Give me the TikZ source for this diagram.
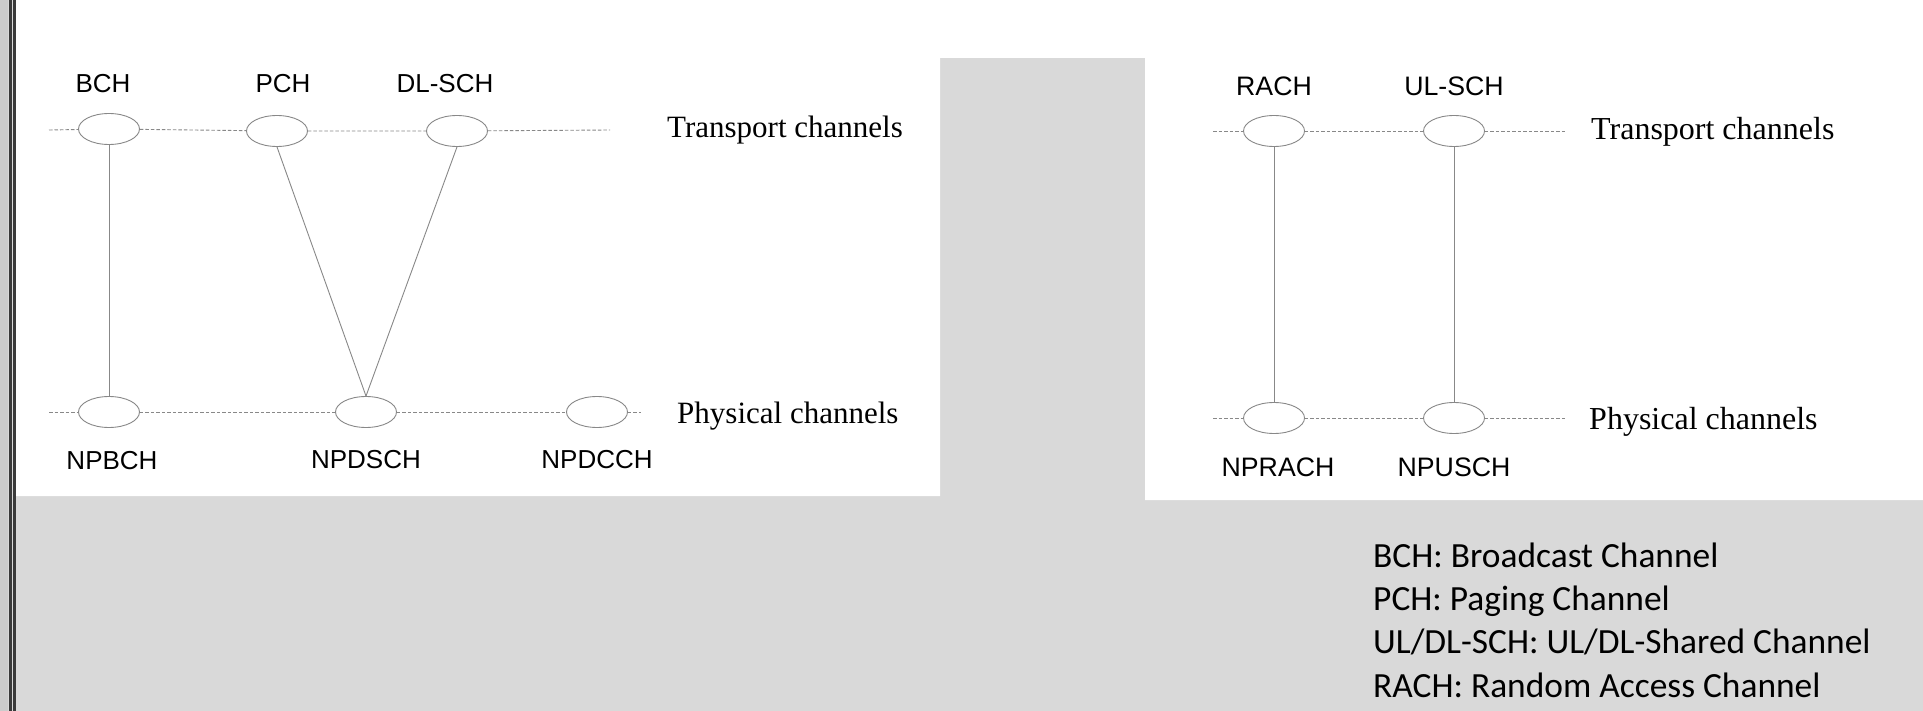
\documentclass[tikz,border=0pt]{standalone}
\usepackage{fontspec}
\setmainfont{Liberation Serif}
\newfontfamily\chfont{Liberation Sans}
\newfontfamily\notefont{Carlito}
\usetikzlibrary{shapes.geometric,positioning}
\definecolor{panelgray}{HTML}{D9D9D9}
\definecolor{framegray}{HTML}{3A3A3A}
\definecolor{linegray}{HTML}{888888}

\begin{document}
\begin{tikzpicture}[
  x=1pt, y=-1pt,
  chan/.style={ellipse, draw=linegray, line width=0.9pt, fill=white, minimum width=61pt, minimum height=31pt, inner sep=0pt},
  chlabel/.style={font=\chfont\fontsize{26}{30}\selectfont, inner sep=0pt},
  chlabelr/.style={font=\chfont\fontsize{26.7}{30}\selectfont, inner sep=0pt},
  layertext/.style={font=\fontsize{31}{36}\selectfont, inner sep=0pt, anchor=base west},
  tier/.style={draw=linegray, line width=0.9pt, dash pattern=on 3.5pt off 2pt},
  link/.style={draw=linegray, line width=0.9pt},
  note/.style={font=\notefont\fontsize{35.4}{43}\selectfont, inner sep=0pt, anchor=base west}
]
\useasboundingbox (0,0) rectangle (1923,711);

% Background and frame
\fill[panelgray] (0,0) rectangle (1923,711);
\fill[white] (16,0) -- (1923,0) -- (1923,500) -- (1145,500) -- (1145,58)
  -- (940,58) -- (940,496) -- (16,496) -- cycle;
\fill[gray!40] (0,0) rectangle (8,711);
\fill[framegray] (9,0) rectangle (11.5,711);
\fill[framegray] (13,0) rectangle (15.5,711);

% Downlink channels
\node[chan] (bch) at (109,129) {};
\node[chan] (pch) at (277,131) {};
\node[chan] (dlsch) at (457,131) {};
\node[chan] (npbch) at (109,412) {};
\node[chan] (npdsch) at (366,412) {};
\node[chan] (npdcch) at (597,412) {};

\node[chlabel, above=20pt of bch, xshift=-6pt] (bchname) {BCH};
\node[chlabel, above=22pt of pch, xshift=6pt] (pchname) {PCH};
\node[chlabel, above=22pt of dlsch, xshift=-12pt] (dlschname) {DL-SCH};
\node[chlabel, below=23pt of npbch, xshift=3pt] (npbchname) {NPBCH};
\node[chlabel, below=22pt of npdsch] (npdschname) {NPDSCH};
\node[chlabel, below=22pt of npdcch] (npdcchname) {NPDCCH};

% Uplink channels
\node[chan] (rach) at (1274,131) {};
\node[chan] (ulsch) at (1454,131) {};
\node[chan] (nprach) at (1274,418) {};
\node[chan] (npusch) at (1454,418) {};

\node[chlabelr, above=19.5pt of rach] (rachname) {RACH};
\node[chlabelr, above=19.5pt of ulsch] (ulschname) {UL-SCH};
\node[chlabelr, below=24pt of nprach, xshift=4pt] (nprachname) {NPRACH};
\node[chlabelr, below=24pt of npusch] (npuschname) {NPUSCH};

% Layer lines
\coordinate (dlt0) at (49,130);
\coordinate (dlt1) at (610,130);
\coordinate (dlp0) at (49,412);
\coordinate (dlp1) at (641,412);
\coordinate (ult0) at (1213,131);
\coordinate (ult1) at (1566,131);
\coordinate (ulp0) at (1213,418);
\coordinate (ulp1) at (1566,418);

\draw[tier] (dlt0) -- (bch) -- (pch) -- (dlsch) -- (dlt1);
\draw[tier] (dlp0) -- (npbch) -- (npdsch) -- (npdcch) -- (dlp1);
\draw[tier] (ult0) -- (rach) -- (ulsch) -- (ult1);
\draw[tier] (ulp0) -- (nprach) -- (npusch) -- (ulp1);

% Mappings
\draw[link] (bch.south) -- (npbch.north);
\draw[link] (pch.south) -- (npdsch.north);
\draw[link] (dlsch.south) -- (npdsch.north);
\draw[link] (rach.south) -- (nprach.north);
\draw[link] (ulsch.south) -- (npusch.north);

% Layer names
\node[layertext] (dltrans) at (667,138) {Transport channels};
\node[layertext] (dlphys) at (677,423) {Physical channels};
\node[layertext, font=\fontsize{32}{36}\selectfont] (ultrans) at (1591,140) {Transport channels};
\node[layertext, font=\fontsize{32}{36}\selectfont] (ulphys) at (1589,429) {Physical channels};

% Abbreviations
\node[note] (bchnote) at (1373,567) {BCH: Broadcast Channel};
\node[note] (pchnote) at (1373,610) {PCH: Paging Channel};
\node[note] (schnote) at (1373,653) {UL/DL-SCH: UL/DL-Shared Channel};
\node[note] (rachnote) at (1373,697) {RACH: Random Access Channel};

\end{tikzpicture}
\end{document}
